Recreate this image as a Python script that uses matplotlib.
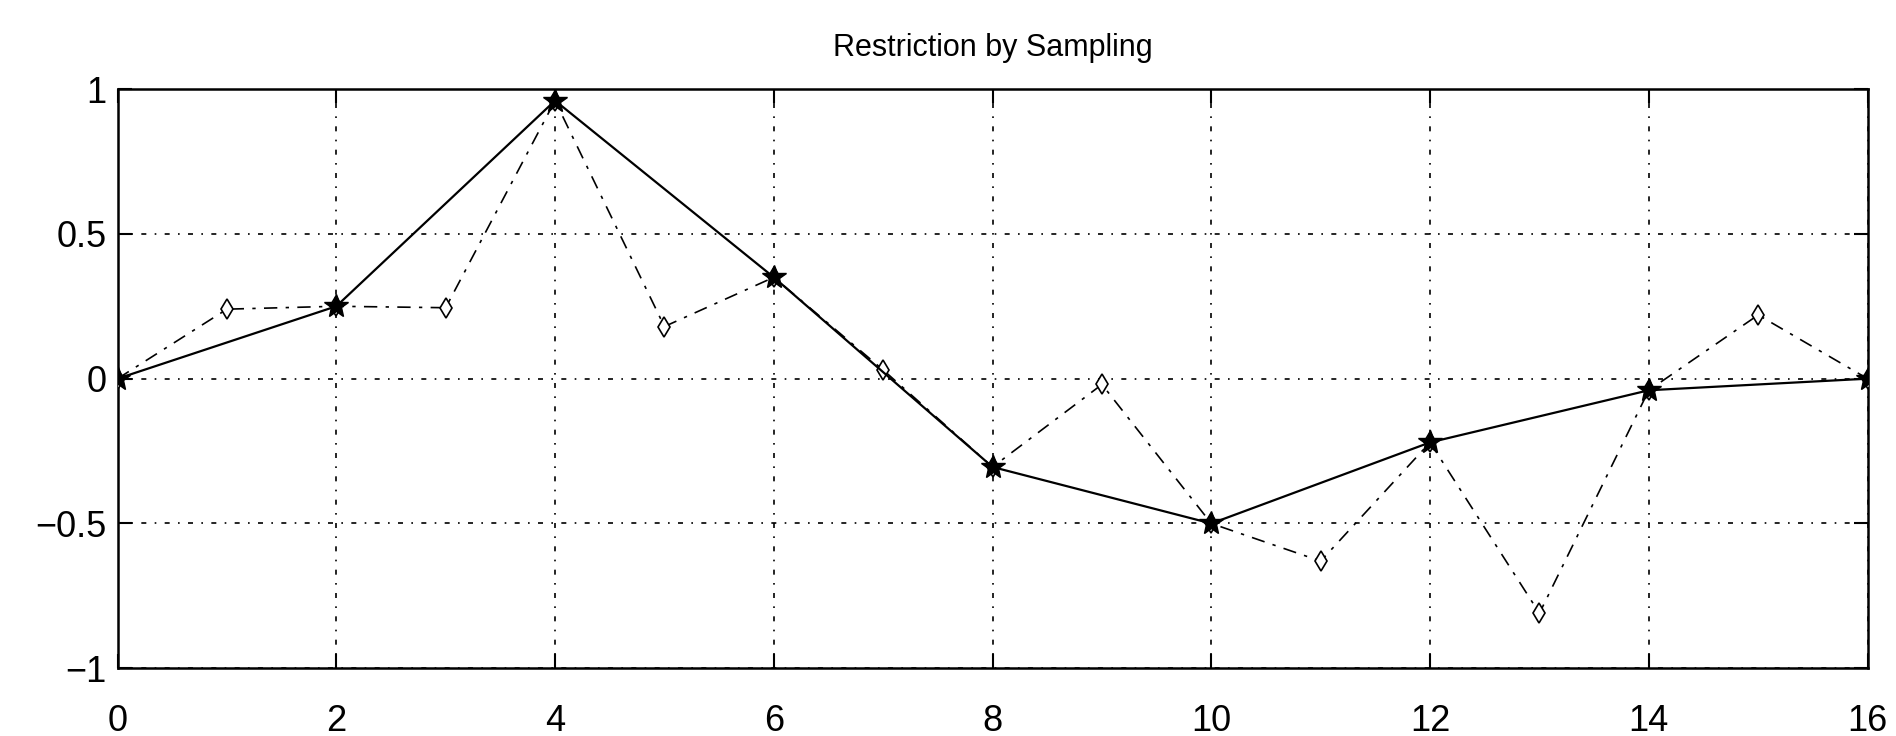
import matplotlib.pyplot as plt
import numpy as np

plt.rcParams['font.family'] = ['Liberation Sans', 'DejaVu Sans']

# coarse grid samples (even points)
x_coarse = [0, 2, 4, 6, 8, 10, 12, 14, 16]
y_coarse = [0.0, 0.25, 0.96, 0.35, -0.305, -0.50, -0.22, -0.04, 0.0]

# fine grid samples (all points)
x_fine = list(range(17))
y_fine = [0.0, 0.24, 0.25, 0.245, 0.96, 0.18, 0.35, 0.03, -0.305,
          -0.02, -0.50, -0.63, -0.22, -0.81, -0.04, 0.22, 0.0]

xticks = [0, 2, 4, 6, 8, 10, 12, 14, 16]
yticks = [-1, -0.5, 0, 0.5, 1]
ytick_labels = ["\u22121", "\u22120.5", "0", "0.5", "1"]

fig = plt.figure(figsize=(18.96, 7.36), dpi=100)
ax = fig.add_axes([0.062, 0.092, 0.923, 0.787])

ax.plot(x_fine, y_fine, color="black", linestyle=(0, (8, 5, 2, 5)), linewidth=1.2,
        marker="d", markersize=10, markerfacecolor="white", markeredgecolor="black",
        markeredgewidth=1.2, zorder=3)
ax.plot(x_coarse, y_coarse, color="black", linestyle="-", linewidth=1.6,
        marker="*", markersize=18, markerfacecolor="black", markeredgecolor="black",
        zorder=4)

ax.set_xlim(0, 16)
ax.set_ylim(-1, 1)
ax.set_xticks(xticks)
ax.set_yticks(yticks)
ax.set_yticklabels(ytick_labels)
ax.tick_params(direction="in", length=10, width=1.5, labelsize=26, pad=8,
               top=True, right=True)
ax.tick_params(axis="x", pad=26)
ax.grid(True, color="black", linestyle=(0, (3, 5, 1, 5)), linewidth=1.2)
for s in ax.spines.values():
    s.set_linewidth(1.8)

ax.set_title("Restriction by Sampling", fontsize=22, pad=24)

fig.savefig("out.png", dpi=100)
